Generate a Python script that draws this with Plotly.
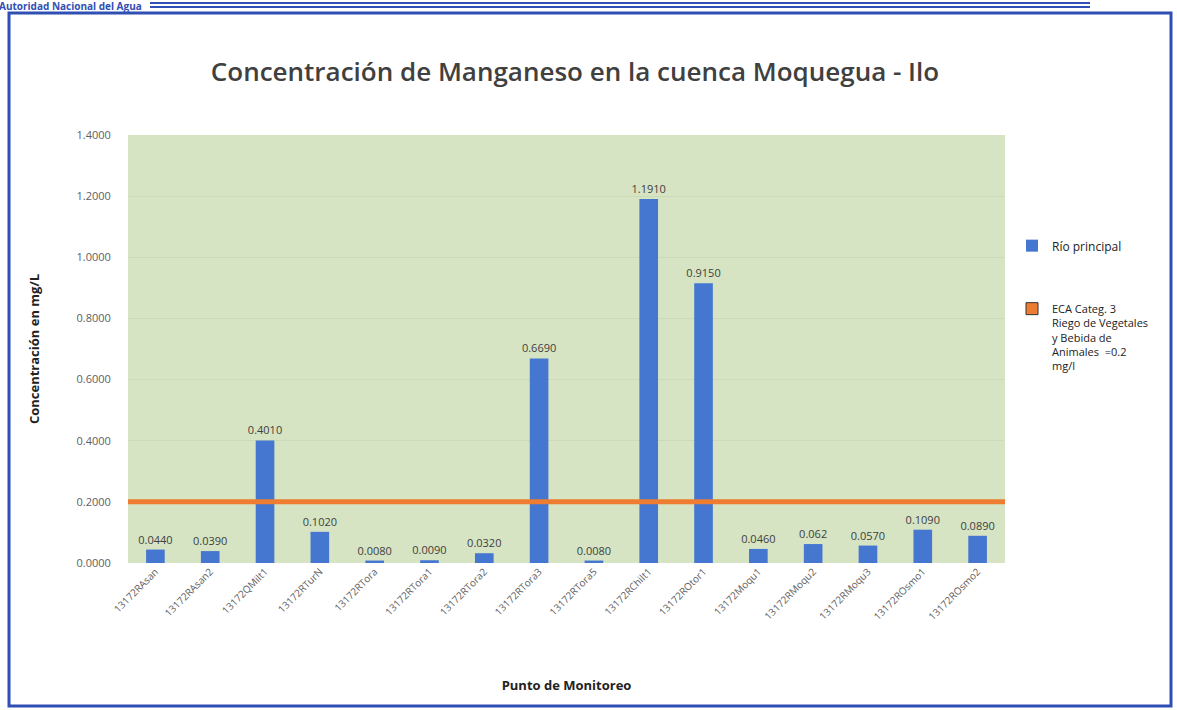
import plotly.graph_objects as go

puntos = ["13172RAsan", "13172RAsan2", "13172QMilt1", "13172RTurN", "13172RTora",
          "13172RTora1", "13172RTora2", "13172RTora3", "13172RTora5", "13172RChilt1",
          "13172ROtor1", "13172Moqu1", "13172RMoqu2", "13172RMoqu3", "13172ROsmo1",
          "13172ROsmo2"]
manganeso = [0.044, 0.039, 0.401, 0.102, 0.008, 0.009, 0.032, 0.669, 0.008, 1.191,
             0.915, 0.046, 0.062, 0.057, 0.109, 0.089]
etiquetas = ["0.0440", "0.0390", "0.4010", "0.1020", "0.0080", "0.0090", "0.0320", "0.6690",
             "0.0080", "1.1910", "0.9150", "0.0460", "0.062", "0.0570", "0.1090", "0.0890"]
eca_limite = 0.2

azul = "#4576d0"
naranja = "#ee7d31"
gris = "#606060"

# plot area in pixels: x 128-1005, y 135-563
L, R, T, B = 128, 172, 135, 147
W, H = 1177, 710
pw, ph = W - L - R, H - T - B


def px_x(x):
    return (x - L) / pw


def px_y(y):
    return (H - B - y) / ph


fig = go.Figure()
fig.add_trace(go.Bar(
    x=puntos, y=manganeso, name="<span style='font-size:12px'>Río principal</span>",
    marker=dict(color=azul, line=dict(width=0)),
    text=etiquetas, textposition="outside", cliponaxis=False, constraintext="none",
    textfont=dict(color="#404040", size=11, family="Open Sans"),
    legendgroup="a",
))
# legend entry for the ECA line (square swatch like the original)
fig.add_trace(go.Bar(
    x=[None], y=[None], marker=dict(color=naranja, line=dict(color="#333333", width=1)),
    name="ECA Categ. 3<br>Riego de Vegetales<br>y Bebida de<br>Animales  =0.2<br>mg/l",
    legendgroup="b",
))
fig.add_hline(y=eca_limite, line=dict(color=naranja, width=5))

fig.update_layout(
    width=W, height=H,
    margin=dict(l=L, r=R, t=T, b=B, autoexpand=False),
    paper_bgcolor="white",
    plot_bgcolor="#d6e4c4",
    bargap=0.66,
    barmode="overlay",
    font=dict(family="Open Sans", color=gris),
    title=dict(
        text="Concentración de Manganeso en la cuenca Moquegua - Ilo",
        x=575 / W, xanchor="center", xref="container", y=1 - 72 / H, yanchor="middle",
        font=dict(size=26, color="#404040", family="Open Sans", weight=600),
    ),
    xaxis=dict(
        tickangle=-45, tickfont=dict(size=10, color=gris),
        showline=False, showgrid=False, automargin=False,
        title=dict(text="<b>Punto de Monitoreo</b>", font=dict(size=13, color="#222222"),
                   standoff=58),
    ),
    yaxis=dict(
        range=[0, 1.4], dtick=0.2, tickformat=".4f",
        tickfont=dict(size=11, color=gris),
        ticks="outside", ticklen=14, tickcolor="rgba(0,0,0,0)",
        showgrid=True, gridcolor="#cbdab7", gridwidth=1,
        zeroline=False, automargin=False,
        title=dict(text="<b>Concentración en mg/L</b>", font=dict(size=13, color="#222222"),
                   standoff=33),
    ),
    legend=dict(
        x=px_x(1012), y=px_y(232), xanchor="left", yanchor="top",
        font=dict(size=11, color="#222222"),
        tracegroupgap=44, traceorder="grouped", valign="top",
        bgcolor="rgba(0,0,0,0)",
    ),
    showlegend=True,
)

# outer blue frame
fig.add_shape(type="rect", xref="paper", yref="paper",
              x0=px_x(9), x1=px_x(1171), y0=px_y(706), y1=px_y(13),
              line=dict(color="#2f4fb4", width=3), layer="below")
# header double rule
for yy in [3, 7]:
    fig.add_shape(type="line", xref="paper", yref="paper",
                  x0=px_x(150), x1=px_x(1090), y0=px_y(yy), y1=px_y(yy),
                  line=dict(color="#2f4fb4", width=2))
fig.add_annotation(text="<b>Autoridad Nacional del Agua</b>", xref="paper", yref="paper",
                   x=px_x(-3), y=px_y(-3), xanchor="left", yanchor="top",
                   showarrow=False, font=dict(size=10, color="#2f4fb4", family="Open Sans"))

fig.write_html("out.html", config={"displayModeBar": False},
               post_script="document.body.style.margin='0';document.body.style.overflow='hidden';")
